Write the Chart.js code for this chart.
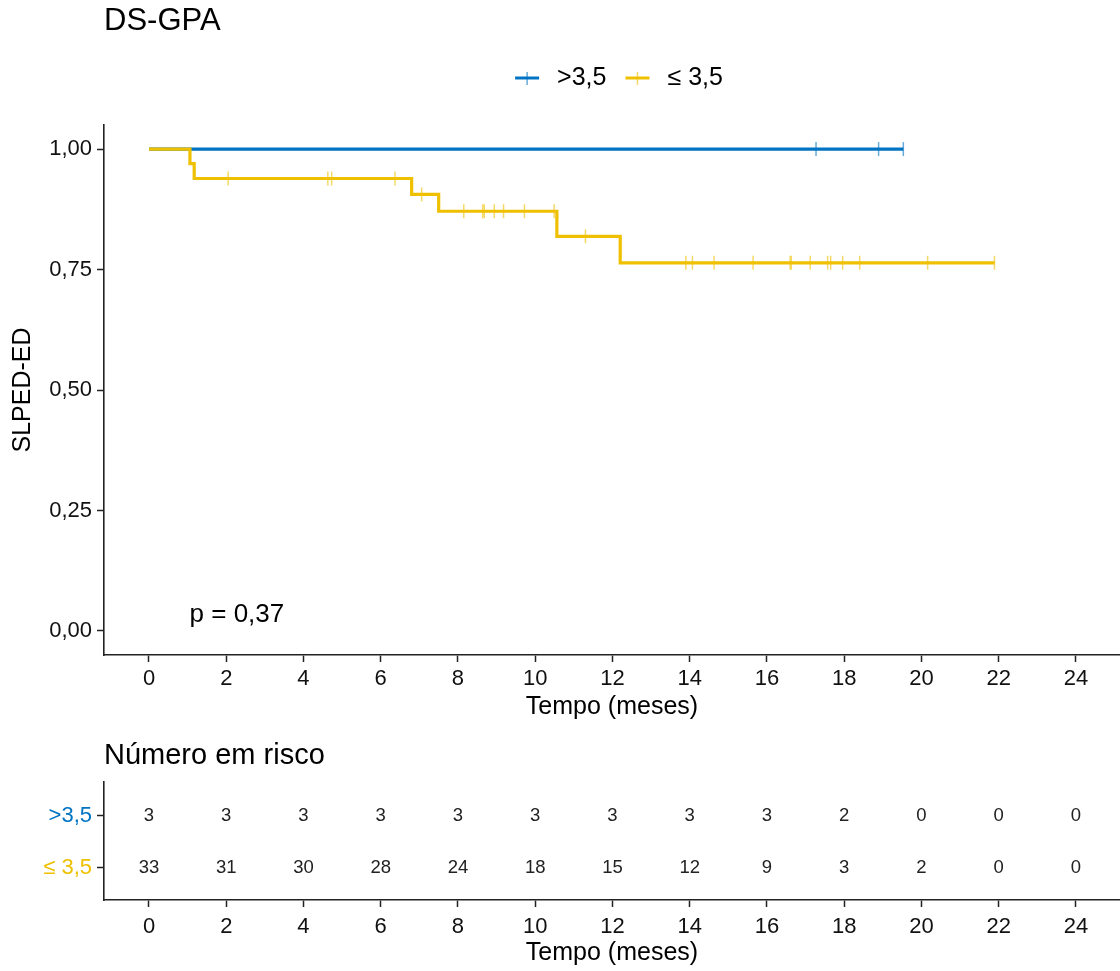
<!DOCTYPE html>
<html>
<head>
<meta charset="utf-8">
<title>DS-GPA</title>
<script src="https://cdn.jsdelivr.net/npm/chart.js@4.4.1/dist/chart.umd.min.js"></script>
<style>
  body { margin: 0; background: #fff; }
  #wrap { position: relative; width: 1120px; height: 971px; }
  #main { position: absolute; left: 0; top: 0; }
  #risk { position: absolute; left: 0; top: 730px; }
</style>
</head>
<body>
<div id="wrap">
  <canvas id="main" width="1120" height="730"></canvas>
  <canvas id="risk" width="1120" height="241"></canvas>
</div>
<script>
// grupos---------------------------------------------------------------
const groupNames = ['>3,5', '≤ 3,5'];
const groupColors = ['#0073C2', '#EFC000'];
const censorColors = ['rgba(0,115,194,0.6)', 'rgba(239,192,0,0.6)'];

// curva KM: tempo do evento e sobrevida logo depois
const highTimes = [0, 19.53];
const highSurv = [1, 1];
const highCensor = [17.27, 18.89, 19.53];

const lowTimes = [0, 1.06, 1.17, 6.80, 7.50, 10.56, 12.20, 21.89];
const lowSurv = [1, 0.970, 0.939, 0.906, 0.871, 0.819, 0.764, 0.764];
const lowCensor = [2.05, 4.63, 4.73, 6.37, 7.06, 8.15, 8.64, 8.68, 8.94, 9.18, 9.72, 10.49, 11.30,
    13.90, 14.07, 14.63, 15.64, 16.60, 16.63, 17.12, 17.57, 17.65, 17.96, 18.40, 20.16, 21.89];

const xTicks = [0, 2, 4, 6, 8, 10, 12, 14, 16, 18, 20, 22, 24];
const yTicks = [0, 0.25, 0.5, 0.75, 1];
const yTickLabels = ['0,00', '0,25', '0,50', '0,75', '1,00'];

// numero em risco
const riskTimes = [0, 2, 4, 6, 8, 10, 12, 14, 16, 18, 20, 22, 24];
const riskHigh = [3, 3, 3, 3, 3, 3, 3, 3, 3, 2, 0, 0, 0];
const riskLow = [33, 31, 30, 28, 24, 18, 15, 12, 9, 3, 2, 0, 0];

const pValueText = 'p = 0,37';

const FONT = '"Liberation Sans", Arial, sans-serif';
Chart.defaults.font.family = FONT;
Chart.defaults.color = '#111';

const X_MIN = -1.165;
const X_MAX = 25.14;


function survAt(times, surv, t) {
    let s = surv[0];
    for (let i = 0; i < times.length; i++) {
        if (times[i] <= t) s = surv[i];
    }
    return s;
}


function kmLine(times, surv, color) {
    return {
        data: times.map((t, i) => ({ x: t, y: surv[i] })),
        showLine: true,
        stepped: true,
        borderColor: color,
        borderWidth: 3.2,
        pointRadius: 0,
        fill: false
    };
}


function censorMarks(censor, times, surv, color) {
    return {
        data: censor.map(t => ({ x: t, y: survAt(times, surv, t) })),
        showLine: false,
        pointStyle: 'line',
        rotation: 90,
        pointRadius: 7,
        borderColor: color,
        pointBorderColor: color,
        pointBorderWidth: 1.5
    };
}


function xAxis(height, tickPad, titlePad) {
    return {
        type: 'linear',
        min: X_MIN,
        max: X_MAX,
        afterBuildTicks: s => { s.ticks = xTicks.map(v => ({ value: v })); },
        afterFit: s => { s.height = height; },
        border: { display: true, color: '#222', width: 1.6 },
        grid: { drawOnChartArea: false, drawTicks: true, tickLength: 7, tickWidth: 1.5, color: '#222' },
        ticks: { font: { size: 22 }, color: '#111', padding: tickPad, autoSkip: false, maxRotation: 0 },
        title: { display: true, text: 'Tempo (meses)', font: { size: 25 }, color: '#000', padding: { top: 0, bottom: titlePad } }
    };
}


// textos do grafico principal (titulo, legenda, p)
const mainText = {
    id: 'mainText',
    afterDraw(chart) {
        const ctx = chart.ctx;
        const xs = chart.scales.x;
        const ys = chart.scales.y;
        ctx.save();
        ctx.textBaseline = 'middle';
        ctx.textAlign = 'left';
        ctx.fillStyle = '#000';

        ctx.font = '31px ' + FONT;
        ctx.fillText('DS-GPA', chart.chartArea.left, 21);

        ctx.font = '26px ' + FONT;
        ctx.fillText(pValueText, xs.getPixelForValue(1.05), ys.getPixelForValue(0.033));

        // legenda
        ctx.font = '25px ' + FONT;
        const symW = 24, symGap = 18, itemGap = 19, legY = 78;
        const widths = groupNames.map(n => ctx.measureText(n).width);
        let total = 0;
        widths.forEach((w, i) => { total += symW + symGap + w + (i ? itemGap : 0); });
        let lx = 619 - total / 2;
        groupNames.forEach((name, i) => {
            ctx.strokeStyle = groupColors[i];
            ctx.lineWidth = 3;
            ctx.beginPath();
            ctx.moveTo(lx, legY);
            ctx.lineTo(lx + symW, legY);
            ctx.stroke();
            ctx.strokeStyle = censorColors[i];
            ctx.lineWidth = 1.5;
            ctx.beginPath();
            ctx.moveTo(lx + symW / 2, legY - 6);
            ctx.lineTo(lx + symW / 2, legY + 7);
            ctx.stroke();
            ctx.fillStyle = '#000';
            ctx.fillText(name, lx + symW + symGap, legY);
            lx += symW + symGap + widths[i] + itemGap;
        });
        ctx.restore();
    }
};


new Chart(document.getElementById('main'), {
    type: 'scatter',
    data: {
        datasets: [
            censorMarks(lowCensor, lowTimes, lowSurv, censorColors[1]),
            censorMarks(highCensor, highTimes, highSurv, censorColors[0]),
            kmLine(lowTimes, lowSurv, groupColors[1]),
            kmLine(highTimes, highSurv, groupColors[0])
        ]
    },
    options: {
        responsive: false,
        animation: false,
        layout: { autoPadding: false, padding: { top: 125, left: 0, right: 0, bottom: 0 } },
        plugins: { legend: { display: false }, tooltip: { enabled: false } },
        scales: {
            x: xAxis(75, 4, 8),
            y: {
                min: -0.05,
                max: 1.05,
                afterBuildTicks: s => { s.ticks = yTicks.map(v => ({ value: v })); },
                afterFit: s => { s.width = 104; },
                border: { display: true, color: '#222', width: 1.6 },
                grid: { drawOnChartArea: false, drawTicks: true, tickLength: 7, tickWidth: 1.5, color: '#222' },
                ticks: { font: { size: 22 }, color: '#111', padding: 5, callback: (v, i) => yTickLabels[i] },
                title: { display: true, text: 'SLPED-ED', font: { size: 25 }, color: '#000', padding: { top: 8, bottom: 0 } }
            }
        }
    },
    plugins: [mainText]
});


// tabela de risco-----------------------------------------------------------
const riskText = {
    id: 'riskText',
    afterDraw(chart) {
        const ctx = chart.ctx;
        ctx.save();
        ctx.fillStyle = '#000';
        ctx.textAlign = 'left';
        ctx.textBaseline = 'middle';
        ctx.font = '29px ' + FONT;
        ctx.fillText('Número em risco', chart.chartArea.left, 26);

        ctx.font = '18.5px ' + FONT;
        ctx.textAlign = 'center';
        ctx.fillStyle = '#222';
        chart.data.datasets.forEach((ds, i) => {
            chart.getDatasetMeta(i).data.forEach((el, j) => {
                ctx.fillText(String(ds.data[j].n), el.x, el.y);
            });
        });
        ctx.restore();
    }
};

const riskValues = [riskHigh, riskLow];

new Chart(document.getElementById('risk'), {
    type: 'scatter',
    data: {
        datasets: groupNames.map((g, i) => ({
            label: g,
            data: riskTimes.map((t, j) => ({ x: t, y: 2 - i, n: riskValues[i][j] })),
            pointRadius: 0,
            showLine: false
        }))
    },
    options: {
        responsive: false,
        animation: false,
        layout: { autoPadding: false, padding: { top: 52, left: 0, right: 0, bottom: 0 } },
        plugins: { legend: { display: false }, tooltip: { enabled: false } },
        scales: {
            x: xAxis(71, 7, 3),
            y: {
                min: 0.385,
                max: 2.65,
                afterBuildTicks: s => { s.ticks = [{ value: 1 }, { value: 2 }]; },
                afterFit: s => { s.width = 104; },
                border: { display: true, color: '#222', width: 1.6 },
                grid: { drawOnChartArea: false, drawTicks: true, tickLength: 7, tickWidth: 1.5, color: '#222' },
                ticks: {
                    font: { size: 22 },
                    padding: 5,
                    color: c => groupColors[2 - c.tick.value],
                    callback: v => groupNames[2 - v]
                }
            }
        }
    },
    plugins: [riskText]
});
</script>
</body>
</html>
